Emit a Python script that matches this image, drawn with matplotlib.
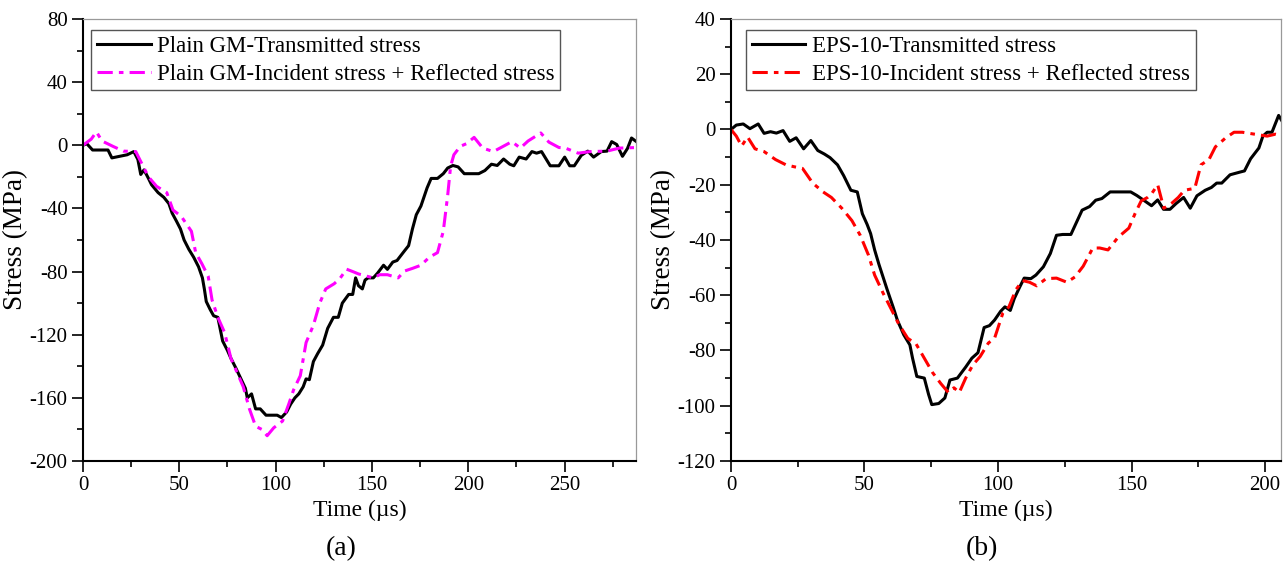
import matplotlib
matplotlib.use('Agg')
import matplotlib.pyplot as plt
from matplotlib.ticker import MultipleLocator

plt.rcParams['font.family'] = ['Liberation Serif', 'DejaVu Serif']
plt.rcParams['axes.unicode_minus'] = False

# (a) Plain GM
t_gm_tr = [0, 2, 5, 13, 15, 19, 23, 26.4, 28.5, 30, 31.7, 34, 35.6, 39, 42, 44.6, 46.3, 48.5, 50.6,
           52.5, 55, 57.5, 60, 62, 63, 64, 66, 67.8, 70, 72.5, 75, 76.8, 79.3, 82, 84.3, 85.3, 87.5,
           89.6, 92, 95, 98, 100.8, 103, 105.7, 107.8, 110, 112, 114.3, 115.8, 117.5, 119.6, 121.8,
           124.4, 127, 130, 132.5, 134.6, 137.9, 140, 141.5, 143, 145, 146.4, 148, 150.7, 152.9, 156,
           158, 160.8, 163, 166.8, 169, 171, 173, 175.4, 178.6, 180.7, 184, 187, 189.3, 192, 194.7,
           197.9, 205.4, 208.6, 212, 215, 218.3, 221.5, 223.6, 226.4, 230, 233, 235.4, 238, 242.5,
           247, 250, 252.6, 255, 258.6, 262, 265, 269, 272, 274.4, 277, 280, 282.6, 284.7, 288]
s_gm_tr = [0, 1, -3, -3, -8, -7, -6, -4, -9, -18.5, -15.6, -21, -25, -30, -33, -37, -43, -48, -53,
           -60, -66, -71, -77, -84, -91, -99, -104, -108, -109, -124, -130, -135, -141, -148, -154,
           -160, -157.5, -167, -167, -171, -171, -171, -172.5, -169, -164, -160, -157.5, -153, -148,
           -148.5, -137, -132, -126.6, -116, -109, -109, -100, -94.5, -94.5, -84, -89, -91, -85.4,
           -84, -84, -81, -76, -78.6, -74, -73, -67, -63.6, -53, -44, -38.5, -27, -21, -21, -18,
           -14.4, -12.8, -13.7, -18, -18, -16, -12, -12.8, -8.7, -12, -13, -7.5, -8.7, -4, -5, -4,
           -13, -13, -7.5, -13, -13, -6.4, -3.7, -7.5, -4, -3.7, 2.3, 0.5, -7, -2, 4.6, 1.6]

t_gm_ir = [0, 4.3, 7, 9.9, 15.6, 21, 27.4, 30.7, 34, 38.2, 43.5, 46.7, 51, 56.3, 58.5, 61.7, 65, 67,
           70, 73.5, 76.8, 80, 83.2, 86.4, 89.6, 92.8, 95.6, 99, 103.6, 106.8, 109.3, 112.8, 115.8,
           119.6, 122.9, 126, 130.4, 133.6, 136.8, 140, 143, 147.5, 150.7, 154, 158, 163.6, 166.8,
           171, 175.4, 179.7, 184, 187, 189.3, 190.8, 192.5, 195.8, 199, 203, 207.5, 213, 217, 222.6,
           227, 231, 237.6, 241.8, 247, 250.4, 257, 263.3, 272, 278.3, 288]
s_gm_ir = [0, 3.9, 8.5, 2.7, -0.7, -3.7, -4, -12, -20, -26, -30, -41, -45, -54.5, -68, -75, -83, -98,
           -109, -118.6, -135, -144, -153, -167, -178, -180, -184, -179, -174.7, -164, -155, -146,
           -125, -114, -100, -91, -87.7, -84, -78.5, -80, -81.5, -83, -84, -82, -82, -84, -79.7, -78,
           -76, -71, -68, -54.5, -31.6, -13.3, -6, -0.7, 1, 5, -1.8, -4, -1.4, 2.3, -1.8, 2.7, 7.8,
           2, -1.4, -1.8, -5, -4, -3.7, -1.8, -1.4]

# (b) EPS-10
t_eps_tr = [0, 2, 4.6, 7.1, 10.2, 12.4, 14.8, 17, 19.5, 22, 24.4, 27.2, 29.9, 32.5, 35, 37.1, 39.9,
            42.2, 44.9, 47.3, 49.2, 51, 52.3, 53.8, 55.4, 58.5, 60.8, 62.3, 64.7, 67, 68, 69.6, 72.4,
            74, 75.2, 77.8, 80.1, 82, 84.8, 87.9, 90.2, 92.5, 94.8, 96.8, 98.7, 101, 102.6, 104.6,
            106.1, 108, 109.8, 112.3, 114.2, 117, 119.6, 121.9, 124.2, 127.3, 129.3, 131.5, 134.3,
            136.6, 138.9, 142, 145, 149.7, 152, 155, 157.5, 159.8, 162, 164.4, 166.7, 169.5, 172,
            174.5, 177.6, 179.9, 181.9, 183.8, 186.9, 190.7, 192.3, 194.6, 197.7, 199.2, 200.8,
            202.6, 205.1, 207]
s_eps_tr = [0, 1.6, 2, 0.3, 2, -1.4, -0.8, -1.3, -0.4, -4.3, -3, -7, -4, -7.6, -8.9, -10.2, -12.8,
            -16.7, -22, -22.6, -30.5, -34.4, -37.7, -43.6, -48.8, -58, -64.5, -69, -74.3, -78, -82.8,
            -89.4, -90, -95.9, -99.6, -99.2, -97.2, -90.7, -90, -86, -82.8, -80.8, -71.7, -71, -69,
            -65.8, -64.2, -65.5, -61.2, -57.3, -53.8, -54, -52.7, -49.7, -44.9, -38.3, -38, -38,
            -33.8, -29.2, -27.9, -25.6, -25, -22.6, -22.6, -22.6, -23.9, -25.9, -27.6, -25.5, -28.9,
            -28.9, -26.8, -24.6, -28.5, -24, -22, -21, -19.4, -19.4, -16.4, -15.4, -15, -10.6, -6.7,
            -2.4, -1, -1, 5.1, 2]

t_eps_ir = [0, 2, 4, 6.2, 9, 12.4, 16.7, 20.6, 23.7, 26.8, 30.6, 34.5, 37.6, 41.5, 45.3, 48.4, 51.5,
            53.8, 57, 60, 62.8, 66.2, 69.3, 72.4, 75.5, 78.6, 81.4, 83.5, 85.5, 87.9, 90.6, 93.3,
            96.4, 98.7, 101.8, 104.1, 106.7, 109.2, 111.8, 114.5, 118, 121.9, 125.8, 128.8, 131.9,
            135.5, 138.1, 141.2, 145, 149, 151.3, 153.6, 156, 157.5, 159.8, 162.1, 165.2, 167.5,
            169.8, 173.7, 176, 179, 181.4, 185.3, 188.4, 191.5, 196.1, 200.8, 203.9, 207]
s_eps_ir = [0, -2.4, -6, -2.7, -7, -8, -10.9, -12.8, -13.5, -14.1, -19.4, -22.6, -24.6, -28.5, -33,
            -38.3, -45.5, -52.7, -59.3, -65, -70.4, -75.6, -77.6, -82.8, -88, -92, -95.2, -93.5,
            -95.2, -90, -85.2, -82.2, -77.3, -75.6, -66.5, -64.2, -58, -54.7, -55.3, -56.6, -54,
            -53.8, -55.3, -53.4, -49.5, -42.9, -42.9, -43.6, -39, -35.7, -30.5, -25.9, -24.6, -23.3,
            -20, -28.5, -26.6, -24.6, -22, -21.3, -12.8, -10.9, -6.3, -3, -1, -1, -1.7, -2.4, -1.7,
            -2.4]

dashdot = (0, (5, 2, 1.5, 2))

fig = plt.figure(figsize=(12.84, 5.67), dpi=100)
ax1 = fig.add_axes([0.0646, 0.187, 0.4307, 0.7795])
ax2 = fig.add_axes([0.5693, 0.187, 0.4284, 0.7795])


def style(ax, xmax, ylim, ymaj, ymin):
    ax.set_xlim(0, xmax)
    ax.set_ylim(*ylim)
    ax.xaxis.set_major_locator(MultipleLocator(50))
    ax.xaxis.set_minor_locator(MultipleLocator(25))
    ax.yaxis.set_major_locator(MultipleLocator(ymaj))
    ax.yaxis.set_minor_locator(MultipleLocator(ymin))
    ax.tick_params(which='both', direction='out', top=False, right=False, width=1.2,
                   labelsize=15, pad=3)
    ax.tick_params(which='major', length=8)
    ax.tick_params(which='minor', length=4)
    for side in ['left', 'bottom']:
        ax.spines[side].set_linewidth(1.5)
    for side in ['top', 'right']:
        ax.spines[side].set_color('#999999')
        ax.spines[side].set_linewidth(0.9)
    ax.set_xlabel('Time (µs)', fontsize=17, labelpad=3)
    ax.set_ylabel('Stress (MPa)', fontsize=19.5, labelpad=1)


def add_legend(ax, x0):
    leg = ax.legend(loc='upper left', bbox_to_anchor=(x0, 0.975), borderaxespad=0,
                    fontsize=16.5, fancybox=False, framealpha=1, edgecolor='#555555',
                    handlelength=2.35, handletextpad=0.28, borderpad=0.25, labelspacing=0.3)
    leg.get_frame().set_linewidth(1.0)


ax1.plot(t_gm_tr, s_gm_tr, color='black', lw=2.2, label='Plain GM-Transmitted stress')
ax1.plot(t_gm_ir, s_gm_ir, color='#FF00FF', lw=2.2, linestyle=dashdot,
         label='Plain GM-Incident stress + Reflected stress')
style(ax1, 287, (-200, 80), 40, 20)
add_legend(ax1, 0.0145)

ax2.plot(t_eps_tr, s_eps_tr, color='black', lw=2.2, label='EPS-10-Transmitted stress')
ax2.plot(t_eps_ir, s_eps_ir, color='#FF0000', lw=2.2, linestyle=dashdot,
         label='EPS-10-Incident stress + Reflected stress')
style(ax2, 206, (-120, 40), 20, 10)
add_legend(ax2, 0.027)

fig.text(0.266, 0.032, '(a)', fontsize=20, ha='center', va='center')
fig.text(0.765, 0.032, '(b)', fontsize=20, ha='center', va='center')

fig.savefig('out.png', dpi=100)
